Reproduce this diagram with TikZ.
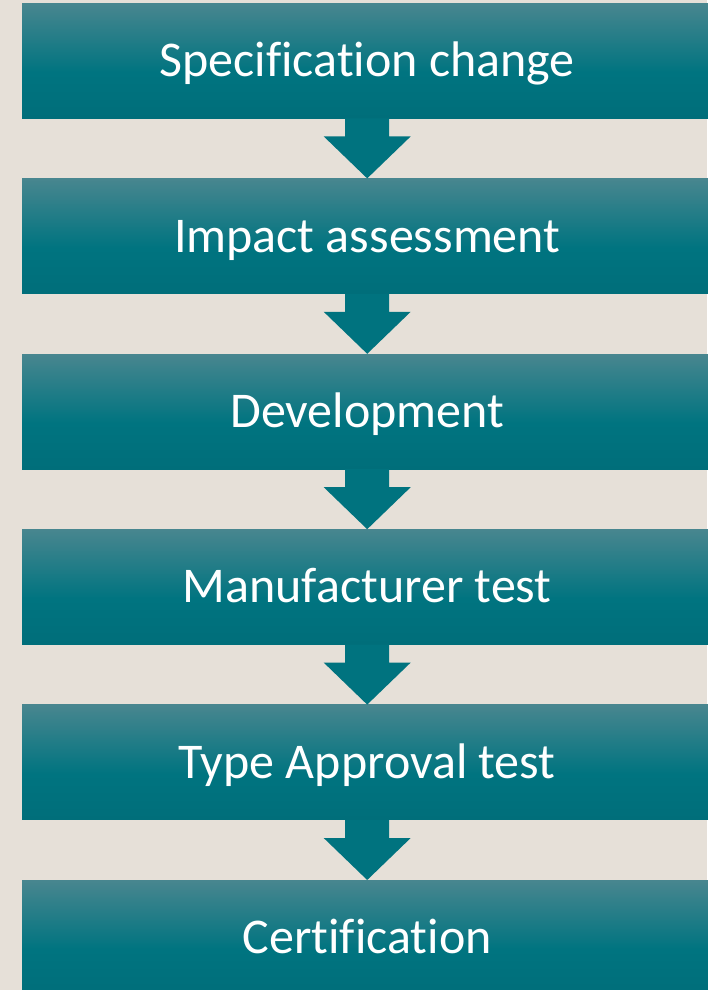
\documentclass[tikz,border=0pt]{standalone}
\usepackage{fontspec}
\setmainfont{Carlito}[Ligatures=NoCommon]
\usetikzlibrary{positioning,calc}

\definecolor{backbeige}{RGB}{230,224,216}
\definecolor{steplight}{RGB}{72,134,143}
\definecolor{stepmid}{RGB}{0,116,128}
\definecolor{stepdark}{RGB}{0,110,122}
\definecolor{arrowteal}{RGB}{0,115,127}

\pgfdeclareverticalshading{stepshade}{100bp}{color(0bp)=(stepdark); color(25bp)=(stepdark); color(45bp)=(stepmid); color(75bp)=(steplight); color(100bp)=(steplight)}

\tikzset{
  stepbox/.style={shade, shading=stepshade, minimum width=690pt, minimum height=115pt,
    inner sep=0pt, text=white, font=\fontsize{50}{60}\selectfont,
    text height=32pt, text depth=0pt},
  steparrow/.style={fill=arrowteal}
}

\begin{document}
\begin{tikzpicture}[x=1pt, y=1pt, node distance=60pt]
        %background
        \fill[backbeige] (0,0) rectangle (707,-990);
        \useasboundingbox (0,0) rectangle (707,-990);

        %steps
        \node[stepbox, anchor=north west] (spec) at (22,-3) {Specification change};
        \node[stepbox, below=of spec] (impact) {Impact assessment};
        \node[stepbox, below=of impact] (devel) {Development};
        \node[stepbox, below=of devel] (mantest) {Manufacturer test};
        \node[stepbox, below=of mantest] (typetest) {Type Approval test};
        \node[stepbox, below=of typetest] (cert) {Certification};

        %arrows
        \foreach \a/\b in {spec/impact, impact/devel, devel/mantest, mantest/typetest, typetest/cert}
            \fill[steparrow] ($(\a.south)+(-22,0)$) -- ++(0,-18) -- ++(-21.5,0) -- (\b.north)
                -- ($(\a.south)+(43.5,-18)$) -- ++(-21.5,0) -- ++(0,18) -- cycle;
\end{tikzpicture}
\end{document}
